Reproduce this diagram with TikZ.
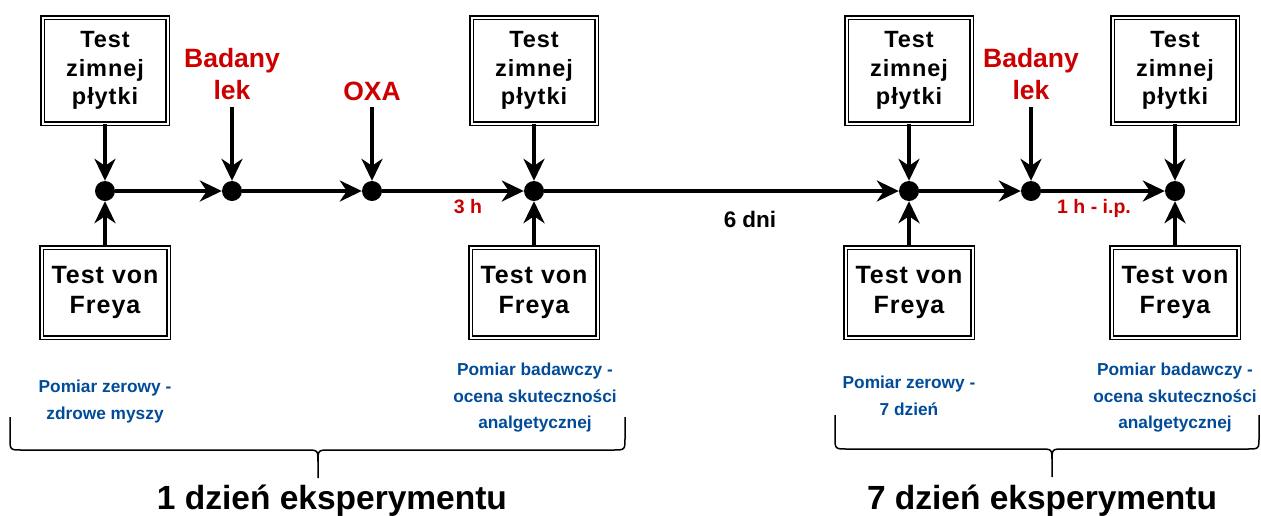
\documentclass[tikz,border=0pt]{standalone}
\usepackage{fontspec}
\setmainfont{Liberation Sans}
\newfontfamily\boxfont[LetterSpace=4]{Liberation Sans}
\usetikzlibrary{arrows.meta}
\definecolor{labred}{HTML}{CC0000}
\definecolor{noteblue}{HTML}{004C99}

\begin{document}
\begin{tikzpicture}[x=1pt,y=-1pt,
  testbox/.style={draw, line width=1.7pt, double, double distance=2pt,
    minimum width=125pt, align=center, inner sep=0pt,
    font=\boxfont\bfseries\fontsize{23.5}{28.5}\selectfont},
  topbox/.style={testbox, minimum height=106pt},
  lowbox/.style={testbox, minimum width=127pt, minimum height=90pt,
    font=\boxfont\bfseries\fontsize{25}{30}\selectfont},
  event/.style={circle, fill=black, inner sep=0pt, minimum size=20pt},
  flow/.style={line width=3.5pt, -{Stealth[length=22pt,width=21pt,inset=7pt]}},
  druglabel/.style={text=labred, align=center, inner sep=0pt,
    font=\bfseries\fontsize{26.5}{32}\selectfont},
  timelabel/.style={inner sep=0pt, font=\bfseries\fontsize{19.5}{23}\selectfont},
  note/.style={text=noteblue, align=center, inner sep=0pt,
    font=\bfseries\fontsize{17.3}{26.5}\selectfont},
  brace/.style={line width=1.5pt},
  daylabel/.style={inner sep=0pt, font=\bfseries\fontsize{33.5}{38}\selectfont}
]
\path[use as bounding box, fill=white] (0,0) rectangle (1261,515);

% time line events
\node[event] (e1) at (105,191) {};
\node[event] (e2) at (232,191) {};
\node[event] (e3) at (372,191) {};
\node[event] (e4) at (534,191) {};
\node[event] (e5) at (909,191) {};
\node[event] (e6) at (1031,191) {};
\node[event] (e7) at (1175,191) {};

% cold plate tests
\node[topbox] (cp1) at (105,70.5) {Test\\zimnej\\płytki};
\node[topbox] (cp2) at (534,70.5) {Test\\zimnej\\płytki};
\node[topbox] (cp3) at (909,70.5) {Test\\zimnej\\płytki};
\node[topbox] (cp4) at (1175,70.5) {Test\\zimnej\\płytki};

% von Frey tests
\node[lowbox] (vf1) at (105,292.5) {Test von\\Freya};
\node[lowbox] (vf2) at (534,292.5) {Test von\\Freya};
\node[lowbox] (vf3) at (909,292.5) {Test von\\Freya};
\node[lowbox] (vf4) at (1175,292.5) {Test von\\Freya};

% administered substances
\node[druglabel] (drug1) at (232,74.5) {Badany\\lek};
\node[druglabel, anchor=base] (oxa) at (372,100) {OXA};
\node[druglabel] (drug2) at (1031,74.5) {Badany\\lek};
\coordinate (drug1in) at (232,107);
\coordinate (oxain) at (372,107);
\coordinate (drug2in) at (1031,107);

% intervals
\node[timelabel, text=labred, anchor=base] (t3h) at (468,213) {3 h};
\node[timelabel, anchor=base, font=\bfseries\fontsize{22.5}{26}\selectfont] (t6d) at (750,227) {6 dni};
\node[timelabel, text=labred, anchor=base] (t1h) at (1094,213) {1 h - i.p.};

% arrows along the time line
\draw[flow] (e1) -- (e2);
\draw[flow] (e2) -- (e3);
\draw[flow] (e3) -- (e4);
\draw[flow] (e4) -- (e5);
\draw[flow] (e5) -- (e6);
\draw[flow] (e6) -- (e7);

% arrows from the tests and doses
\foreach \k in {1,2,3,4}{
  \pgfmathtruncatemacro{\ev}{\k==1 ? 1 : (\k==2 ? 4 : (\k==3 ? 5 : 7))}
  \draw[flow] (cp\k) -- (e\ev);
  \draw[flow] (vf\k) -- (e\ev);
}
\draw[flow] (drug1in) -- (e2);
\draw[flow] (oxain) -- (e3);
\draw[flow] (drug2in) -- (e6);

% measurement notes
\node[note, anchor=north] (n1) at (105,380) {Pomiar zerowy -\\zdrowe myszy};
\node[note, anchor=north] (n2) at (535,363) {Pomiar badawczy -\\ocena skuteczności\\analgetycznej};
\node[note, anchor=north] (n3) at (909,376) {Pomiar zerowy -\\7 dzień};
\node[note, anchor=north] (n4) at (1175,363) {Pomiar badawczy -\\ocena skuteczności\\analgetycznej};

% braces grouping the days
\draw[brace] (10,417) -- (10,438) .. controls (10,450) .. (22,450) -- (306,450)
  .. controls (318,450) .. (318,462) -- (318,478)
  (318,462) .. controls (318,450) .. (330,450) -- (613,450)
  .. controls (625,450) .. (625,438) -- (625,417);
\draw[brace] (835,415) -- (835,437) .. controls (835,449) .. (847,449) -- (1040,449)
  .. controls (1052,449) .. (1052,461) -- (1052,477)
  (1052,461) .. controls (1052,449) .. (1064,449) -- (1247,449)
  .. controls (1259,449) .. (1259,437) -- (1259,415);

\node[daylabel, anchor=base] (d1) at (332,509) {1 dzień eksperymentu};
\node[daylabel, anchor=base] (d7) at (1042,509) {7 dzień eksperymentu};
\end{tikzpicture}
\end{document}
